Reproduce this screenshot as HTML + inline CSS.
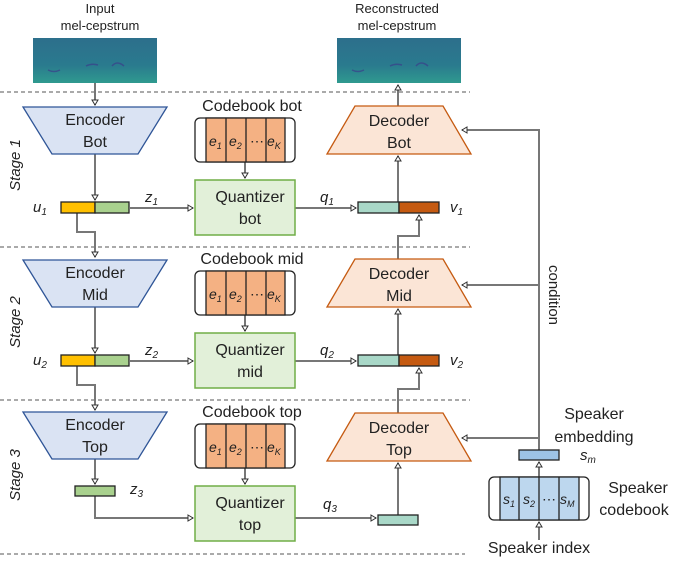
<!DOCTYPE html>
<html><head><meta charset="utf-8"><style>
body{margin:0;background:#fff}
svg text{font-family:"Liberation Sans",sans-serif;fill:#222}
.m{font-family:"Liberation Serif",serif;font-style:italic}
</style></head><body>
<svg width="680" height="558" viewBox="0 0 680 558" xmlns="http://www.w3.org/2000/svg">
<defs>
<marker id="a" markerWidth="8" markerHeight="8" refX="6" refY="4" orient="auto" markerUnits="userSpaceOnUse"><path d="M1,1 L6,4 L1,7 Z" fill="#fff" stroke="#333" stroke-width="1"/></marker>
<linearGradient id="sp" x1="0" y1="0" x2="0" y2="1"><stop offset="0" stop-color="#2d6f8c"/><stop offset="0.6" stop-color="#2a7a8e"/><stop offset="1" stop-color="#2f9a8f"/></linearGradient>
</defs>
<g stroke="#555" stroke-dasharray="4,3" stroke-width="1">
<line x1="0" y1="92" x2="470" y2="92"/><line x1="0" y1="247" x2="470" y2="247"/>
<line x1="0" y1="400" x2="470" y2="400"/><line x1="0" y1="554" x2="465" y2="554"/>
</g>
<text x="100" y="13" font-size="13" text-anchor="middle">Input</text>
<text x="100" y="30" font-size="13" text-anchor="middle">mel-cepstrum</text>
<text x="397" y="13" font-size="13" text-anchor="middle">Reconstructed</text>
<text x="397" y="30" font-size="13" text-anchor="middle">mel-cepstrum</text>
<rect x="33" y="38" width="124" height="45" fill="url(#sp)"/>
<rect x="337" y="38" width="124" height="45" fill="url(#sp)"/>
<g stroke="#3b3f8a" stroke-width="1.5" fill="none" opacity="0.7">
<path d="M48,70 q6,3 12,0"/><path d="M86,66 q6,-3 12,-1"/><path d="M112,66 q5,-6 12,0"/>
<path d="M352,70 q6,3 12,0"/><path d="M390,66 q6,-3 12,-1"/><path d="M416,66 q5,-6 12,0"/>
</g>
<g font-size="15" font-style="italic">
<text transform="translate(20,165) rotate(-90)" text-anchor="middle">Stage 1</text>
<text transform="translate(20,322) rotate(-90)" text-anchor="middle">Stage 2</text>
<text transform="translate(20,475) rotate(-90)" text-anchor="middle">Stage 3</text>
</g>
<text transform="translate(549,295) rotate(90)" font-size="15" text-anchor="middle">condition</text>
<!-- connectors -->
<g stroke="#777" stroke-width="2" fill="none" marker-end="url(#a)">
<path d="M95,83 V105"/><path d="M95,154 V200"/><path d="M77,213 V232 H95 V257"/>
<path d="M95,306 V353"/><path d="M77,366 V385 H95 V410"/><path d="M95,457 V484"/>
<path d="M95,496 V518 H193"/>
<path d="M130,208 H193"/><path d="M130,361 H193"/>
<path d="M245,162 V178"/><path d="M245,315 V331"/><path d="M245,468 V484"/>
<path d="M295,208 H356"/><path d="M295,361 H356"/><path d="M295,518 H376"/>
<path d="M398,202 V156"/><path d="M398,355 V309"/><path d="M398,515 V463"/>
<path d="M398,106 V85"/>
<path d="M398,260 V236 H419 V215"/><path d="M398,413 V389 H419 V368"/>
<path d="M539,450 V130 H462" /><path d="M539,285 H462"/><path d="M539,438 H462"/>
<path d="M539,477 V462"/><path d="M539,540 V522"/>
</g>
<!-- encoders -->
<g fill="#dae3f3" stroke="#2f5597" stroke-width="1.3">
<path d="M23,107 H167 L138,154 H52 Z"/><path d="M23,260 H167 L138,307 H52 Z"/><path d="M23,412 H167 L138,459 H52 Z"/>
</g>
<g font-size="16" text-anchor="middle">
<text x="95" y="125">Encoder</text><text x="95" y="147">Bot</text>
<text x="95" y="278">Encoder</text><text x="95" y="300">Mid</text>
<text x="95" y="430">Encoder</text><text x="95" y="452">Top</text>
</g>
<!-- decoders -->
<g fill="#fbe5d6" stroke="#c55a11" stroke-width="1.3">
<path d="M355,106 H443 L471,154 H327 Z"/><path d="M355,259 H443 L471,307 H327 Z"/><path d="M355,413 H443 L471,461 H327 Z"/>
</g>
<g font-size="16" text-anchor="middle">
<text x="399" y="126">Decoder</text><text x="399" y="148">Bot</text>
<text x="399" y="279">Decoder</text><text x="399" y="301">Mid</text>
<text x="399" y="433">Decoder</text><text x="399" y="455">Top</text>
</g>
<!-- codebooks -->
<g font-size="16" text-anchor="middle">
<text x="252" y="111">Codebook bot</text><text x="252" y="264">Codebook mid</text><text x="252" y="417">Codebook top</text>
</g>
<g id="cb">
<rect x="195" y="118" width="100" height="44" rx="5" fill="#fff" stroke="#222" stroke-width="1.3"/>
<rect x="206" y="118" width="79" height="44" fill="#f4b183" stroke="#222" stroke-width="1.3"/>
<g stroke="#222" stroke-width="1.3"><line x1="226" y1="118" x2="226" y2="162"/><line x1="246" y1="118" x2="246" y2="162"/><line x1="266" y1="118" x2="266" y2="162"/></g>
<g class="m" font-size="14"><text x="209" y="146">e<tspan font-size="9" dy="3">1</tspan></text><text x="229" y="146">e<tspan font-size="9" dy="3">2</tspan></text><text x="250" y="146" font-style="normal">⋯</text><text x="267" y="146">e<tspan font-size="9" dy="3">K</tspan></text></g>
</g>
<use href="#cb" y="153"/><use href="#cb" y="306"/>
<!-- quantizers -->
<g fill="#e2f0d9" stroke="#70ad47" stroke-width="1.5">
<rect x="195" y="180" width="100" height="55"/><rect x="195" y="333" width="100" height="55"/><rect x="195" y="486" width="100" height="55"/>
</g>
<g font-size="16" text-anchor="middle">
<text x="250" y="202">Quantizer</text><text x="250" y="224">bot</text>
<text x="250" y="355">Quantizer</text><text x="250" y="377">mid</text>
<text x="250" y="508">Quantizer</text><text x="250" y="530">top</text>
</g>
<!-- bars -->
<g stroke="#222" stroke-width="1.3">
<rect x="61" y="202" width="34" height="11" fill="#ffc000"/><rect x="95" y="202" width="34" height="11" fill="#a9d18e"/>
<rect x="61" y="355" width="34" height="11" fill="#ffc000"/><rect x="95" y="355" width="34" height="11" fill="#a9d18e"/>
<rect x="75" y="486" width="40" height="10" fill="#a9d18e"/>
<rect x="358" y="202" width="41" height="11" fill="#a9d8c8"/><rect x="399" y="202" width="40" height="11" fill="#c55a11"/>
<rect x="358" y="355" width="41" height="11" fill="#a9d8c8"/><rect x="399" y="355" width="40" height="11" fill="#c55a11"/>
<rect x="378" y="515" width="40" height="10" fill="#a9d8c8"/>
<rect x="519" y="450" width="40" height="10" fill="#9dc3e6"/>
</g>
<g class="m" font-size="15">
<text x="33" y="212">u<tspan font-size="10" dy="3">1</tspan></text><text x="33" y="365">u<tspan font-size="10" dy="3">2</tspan></text>
<text x="145" y="202">z<tspan font-size="10" dy="3">1</tspan></text><text x="145" y="355">z<tspan font-size="10" dy="3">2</tspan></text><text x="130" y="494">z<tspan font-size="10" dy="3">3</tspan></text>
<text x="320" y="202">q<tspan font-size="10" dy="3">1</tspan></text><text x="320" y="355">q<tspan font-size="10" dy="3">2</tspan></text><text x="323" y="509">q<tspan font-size="10" dy="3">3</tspan></text>
<text x="450" y="212">v<tspan font-size="10" dy="3">1</tspan></text><text x="450" y="365">v<tspan font-size="10" dy="3">2</tspan></text>
<text x="580" y="460">s<tspan font-size="10" dy="3">m</tspan></text>
</g>
<!-- speaker codebook -->
<rect x="489" y="477" width="100" height="43" rx="5" fill="#fff" stroke="#222" stroke-width="1.3"/>
<rect x="500" y="477" width="79" height="43" fill="#bdd7ee" stroke="#222" stroke-width="1.3"/>
<g stroke="#222" stroke-width="1.3"><line x1="519" y1="477" x2="519" y2="520"/><line x1="539" y1="477" x2="539" y2="520"/><line x1="559" y1="477" x2="559" y2="520"/></g>
<g class="m" font-size="14"><text x="503" y="504">s<tspan font-size="9" dy="3">1</tspan></text><text x="523" y="504">s<tspan font-size="9" dy="3">2</tspan></text><text x="542" y="504" font-style="normal">⋯</text><text x="560" y="504">s<tspan font-size="9" dy="3">M</tspan></text></g>
<g font-size="16">
<text x="594" y="419" text-anchor="middle">Speaker</text><text x="594" y="442" text-anchor="middle">embedding</text>
<text x="638" y="493" text-anchor="middle">Speaker</text><text x="634" y="515" text-anchor="middle">codebook</text>
<text x="539" y="553" text-anchor="middle">Speaker index</text>
</g>
</svg>
</body></html>
